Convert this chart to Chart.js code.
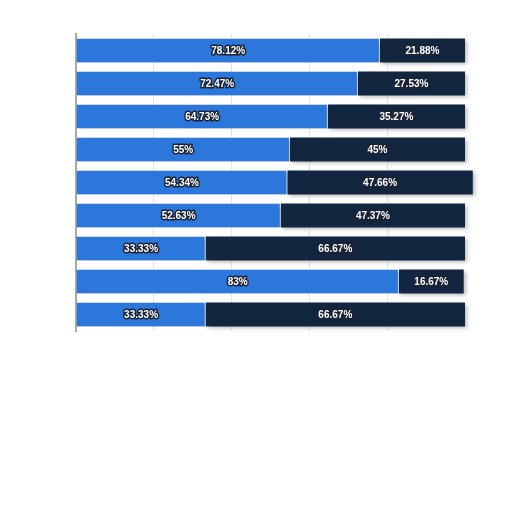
<!DOCTYPE html>
<html><head><meta charset="utf-8">
<script src="https://cdn.jsdelivr.net/npm/chart.js@4"></script>
<style>html,body{margin:0;padding:0;background:#fff;}#wrap{width:512px;height:512px;}</style>
</head><body><div id="wrap"><canvas id="c" width="512" height="512"></canvas></div>
<script>
const categories = ["1","2","3","4","5","6","7","8","9"];
const seriesA = [78.12, 72.47, 64.73, 55, 54.34, 52.63, 33.33, 83, 33.33];
const seriesB = [21.88, 27.53, 35.27, 45, 47.66, 47.37, 66.67, 16.67, 66.67];
const labelsA = ["78.12%","72.47%","64.73%","55%","54.34%","52.63%","33.33%","83%","33.33%"];
const labelsB = ["21.88%","27.53%","35.27%","45%","47.66%","47.37%","66.67%","16.67%","66.67%"];
const xTicks = [0,20,40,60,80,100];

const shadowPlugin = {
  id:'shadow',
  beforeDatasetsDraw(chart){ const c=chart.ctx; c.save(); c.shadowColor='rgba(0,0,0,0.28)'; c.shadowBlur=4; c.shadowOffsetX=2; c.shadowOffsetY=2; },
  afterDatasetsDraw(chart){ chart.ctx.restore(); }
};
const labelPlugin = {
  id:'labels',
  afterDatasetsDraw(chart){
    const c=chart.ctx;
    c.save();
    c.font='bold 10px "Liberation Sans", Arial, sans-serif';
    c.textAlign='center'; c.textBaseline='middle';
    c.lineJoin='round';
    const texts=[labelsA,labelsB];
    chart.data.datasets.forEach((ds,di)=>{
      chart.getDatasetMeta(di).data.forEach((bar,i)=>{
        const x=(bar.x+bar.base)/2, y=bar.y+0.5;
        c.lineWidth=3; c.strokeStyle='#1b2233';
        c.strokeText(texts[di][i],x,y);
        c.fillStyle='#ffffff';
        c.fillText(texts[di][i],x,y);
      });
    });
    c.restore();
  }
};

new Chart(document.getElementById('c'),{
  type:'bar',
  data:{labels:categories,datasets:[
    {data:seriesA,backgroundColor:'#2b77dc',borderColor:'rgba(255,255,255,0.85)',borderWidth:{right:1},borderSkipped:false,categoryPercentage:1,barPercentage:0.72,clip:false},
    {data:seriesB,backgroundColor:'#13263f',borderWidth:0,categoryPercentage:1,barPercentage:0.72,clip:false}
  ]},
  options:{
    indexAxis:'y',responsive:false,animation:false,
    layout:{padding:{left:76,top:34,right:47,bottom:181}},
    plugins:{legend:{display:false},tooltip:{enabled:false}},
    scales:{
      x:{stacked:true,min:0,max:100,
        afterBuildTicks(ax){ax.ticks=xTicks.map(v=>({value:v}));},
        ticks:{display:false},
        border:{display:false},
        grid:{drawTicks:false,color:(ctx)=>(ctx.tick&&(ctx.tick.value===0||ctx.tick.value===100))?'rgba(0,0,0,0)':'rgba(0,0,0,0.1)',lineWidth:1,borderDash:[2,2]}},
      y:{stacked:true,ticks:{display:false},grid:{display:false,drawTicks:false},border:{display:true,color:'#a8a8a8',width:2}}
    }
  },
  plugins:[shadowPlugin,labelPlugin]
});
</script></body></html>
